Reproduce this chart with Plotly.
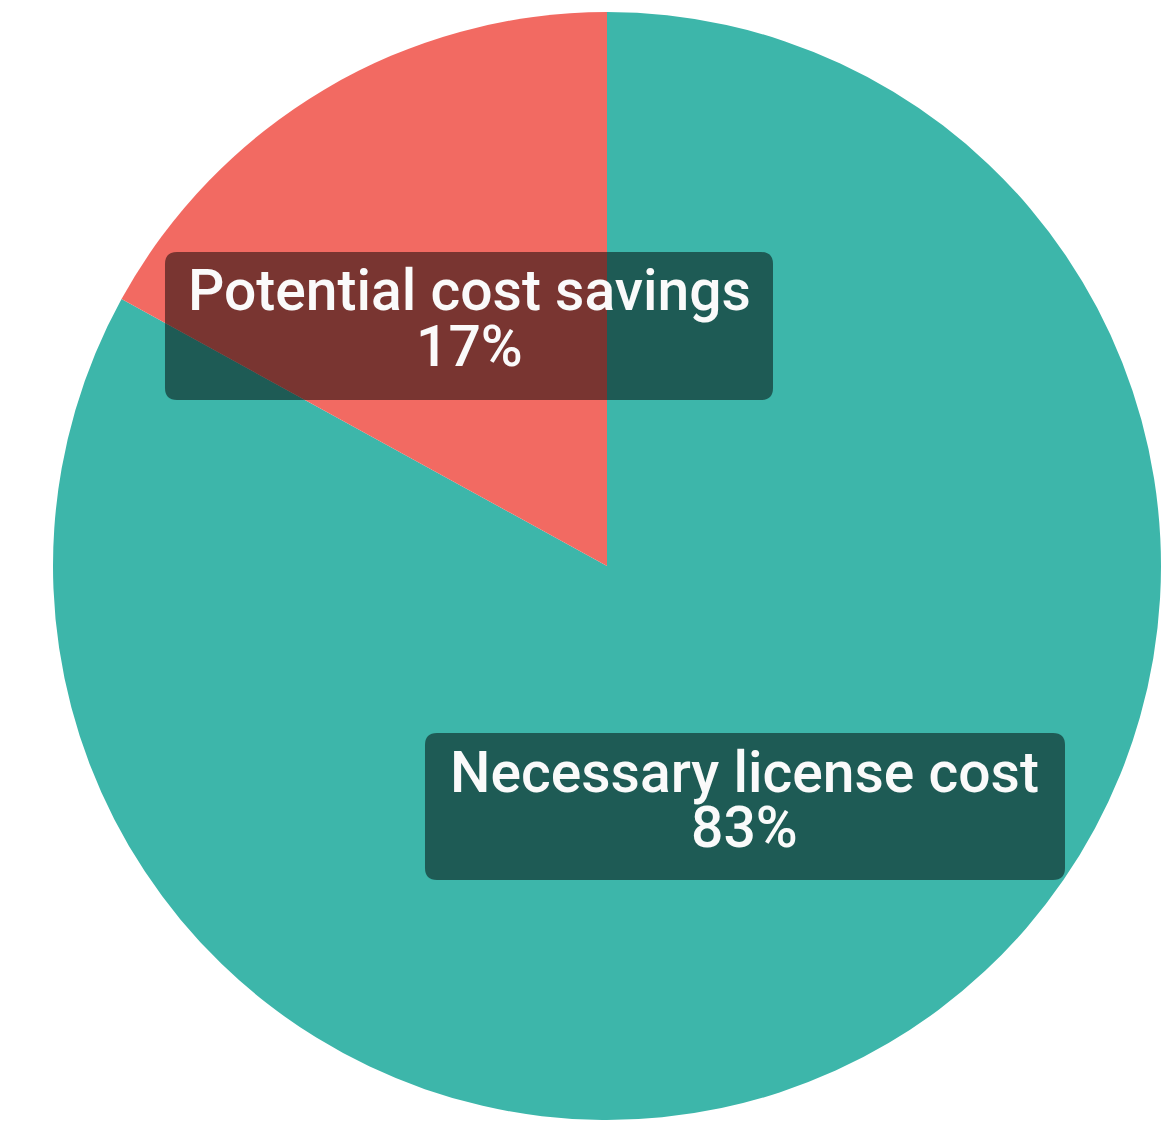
import plotly.graph_objects as go

W, H = 1164, 1126

labels = ["Potential cost savings", "Necessary license cost"]
values = [17, 83]
colors = ["#F26A62", "#3DB6AA"]


def px(x):
    return x / W


def py(y):
    return 1 - y / H


order = [1, 0]
fig = go.Figure(go.Pie(
    labels=[labels[i] for i in order],
    values=[values[i] for i in order],
    marker=dict(colors=[colors[i] for i in order], line=dict(width=0)),
    sort=False,
    direction="counterclockwise",
    rotation=0,
    textinfo="none",
    hoverinfo="label+percent",
    domain=dict(x=[px(52), px(1162)], y=[py(1120), py(12)]),
    showlegend=False,
))


def rounded_rect(x0, y0, x1, y1, r):
    pts = [
        ("M", (x0 + r, y0)),
        ("L", (x1 - r, y0)),
        ("Q", (x1, y0), (x1, y0 + r)),
        ("L", (x1, y1 - r)),
        ("Q", (x1, y1), (x1 - r, y1)),
        ("L", (x0 + r, y1)),
        ("Q", (x0, y1), (x0, y1 - r)),
        ("L", (x0, y0 + r)),
        ("Q", (x0, y0), (x0 + r, y0)),
    ]
    s = ""
    for p in pts:
        cmd = p[0]
        coords = " ".join(f"{px(c[0]):.5f},{py(c[1]):.5f}" for c in p[1:])
        s += f"{cmd} {coords} "
    return s + "Z"


boxes = [
    (165, 252, 773, 400, (469, 291), (469, 346)),
    (425, 733, 1065, 880, (745, 772), (745, 827)),
]

shapes = []
annotations = []
for i, (x0, y0, x1, y1, c1, c2) in enumerate(boxes):
    shapes.append(dict(
        type="path", xref="paper", yref="paper",
        path=rounded_rect(x0, y0, x1, y1, 12),
        fillcolor="rgba(0,0,0,0.5)", line=dict(width=0), layer="above",
    ))
    pct = round(100 * values[i] / sum(values))
    for (cx, cy), txt in ((c1, labels[i]), (c2, f"{pct}%")):
        annotations.append(dict(
            x=px(cx), y=py(cy), xref="paper", yref="paper",
            text=txt, showarrow=False, xanchor="center", yanchor="middle",
            font=dict(family="Roboto", size=57, color="#FAFAFA", weight=500),
        ))

fig.update_layout(
    width=W, height=H,
    margin=dict(l=0, r=0, t=0, b=0),
    paper_bgcolor="white",
    plot_bgcolor="white",
    shapes=shapes,
    annotations=annotations,
)

fig.write_html(
    "out.html",
    config={"displayModeBar": False},
    post_script="document.body.style.margin='0';document.body.style.overflow='hidden';",
)
